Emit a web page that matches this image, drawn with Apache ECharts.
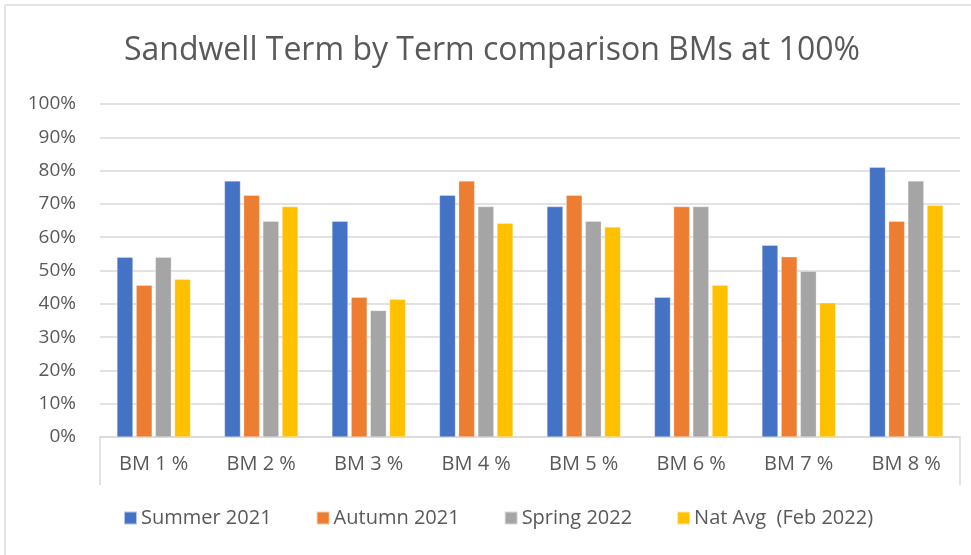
<!DOCTYPE html>
<html>
<head>
<meta charset="utf-8">
<script src="https://cdn.jsdelivr.net/npm/echarts@6/dist/echarts.min.js"></script>
<style>
  html, body { margin: 0; padding: 0; background: #fff; }
  #chart { width: 971px; height: 555px; }
</style>
</head>
<body>
<div id="chart"></div>
<script>
const categories = ['BM 1 %', 'BM 2 %', 'BM 3 %', 'BM 4 %', 'BM 5 %', 'BM 6 %', 'BM 7 %', 'BM 8 %'];
const summer2021 = [0.54, 0.769, 0.648, 0.726, 0.692, 0.42, 0.576, 0.81];
const autumn2021 = [0.456, 0.726, 0.42, 0.769, 0.726, 0.692, 0.541, 0.648];
const spring2022 = [0.54, 0.648, 0.38, 0.692, 0.648, 0.692, 0.498, 0.769];
const natAvg = [0.474, 0.692, 0.414, 0.642, 0.631, 0.456, 0.403, 0.696];
const seriesNames = ['Summer 2021', 'Autumn 2021', 'Spring 2022', 'Nat Avg  (Feb 2022)'];
const colors = ['#4472C4', '#ED7D31', '#A5A5A5', '#FFC000'];

const chart = echarts.init(document.getElementById('chart'));
const font = "'Open Sans', 'Noto Sans', sans-serif";

function barSeries(name, data) {
    return {
        name: name,
        type: 'bar',
        data: data,
        barWidth: 16,
        barGap: '20%',
        itemStyle: { borderColor: 'rgba(255,255,255,0.6)', borderWidth: 0.5 }
    };
}

chart.setOption({
    color: colors,
    animation: false,
    textStyle: { fontFamily: font },
    title: {
        text: 'Sandwell Term by Term comparison BMs at 100%',
        left: 119,
        top: 30,
        textStyle: { color: '#595959', fontSize: 32, fontWeight: 'normal', fontFamily: font }
    },
    legend: {
        bottom: 22,
        left: 118,
        itemWidth: 13,
        itemHeight: 13,
        itemGap: 44,
        icon: 'rect',
        textStyle: { color: '#595959', fontSize: 20, fontFamily: font, padding: [0, 0, 0, -1] },
        data: seriesNames
    },
    grid: { left: 100, right: 11, top: 104, bottom: 118 },
    xAxis: {
        type: 'category',
        data: categories,
        axisLine: { lineStyle: { color: '#d9d9d9', width: 1.5 } },
        axisTick: { show: true, length: 48, interval: function (i) { return i === 0; }, lineStyle: { color: '#d9d9d9', width: 1.5 } },
        axisLabel: { color: '#595959', fontSize: 20, margin: 17 }
    },
    yAxis: {
        type: 'value',
        min: 0,
        max: 1,
        interval: 0.1,
        axisLine: { show: false },
        axisTick: { show: false },
        splitLine: { lineStyle: { color: '#d9d9d9', width: 1.5 } },
        axisLabel: {
            color: '#595959',
            fontSize: 19,
            margin: 24,
            formatter: function (v) { return Math.round(v * 100) + '%'; }
        }
    },
    graphic: [
        { type: 'line', shape: { x1: 5, y1: 5, x2: 971, y2: 5 }, style: { stroke: '#e3e3e3', lineWidth: 2 } },
        { type: 'line', shape: { x1: 5, y1: 5, x2: 5, y2: 555 }, style: { stroke: '#e3e3e3', lineWidth: 2 } }
    ],
    series: [
        barSeries(seriesNames[0], summer2021),
        barSeries(seriesNames[1], autumn2021),
        barSeries(seriesNames[2], spring2022),
        barSeries(seriesNames[3], natAvg)
    ]
});
</script>
</body>
</html>
